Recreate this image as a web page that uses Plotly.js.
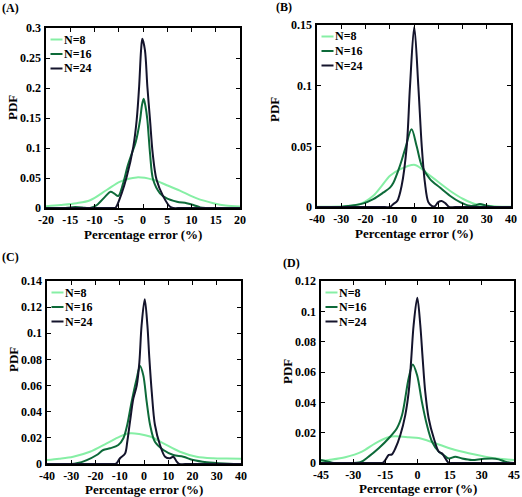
<!DOCTYPE html>
<html><head><meta charset="utf-8">
<script src="https://cdn.plot.ly/plotly-3.0.1.min.js"></script>
<style>html,body{margin:0;padding:0;background:#fff}#chart{width:522px;height:497px}</style>
</head><body><div id="chart"></div>
<script>
const seriesNames = ['N=8', 'N=16', 'N=24'];
const seriesColors = ['#86EFA5', '#0D6A39', '#14142C'];
const panelLabels = ['(A)', '(B)', '(C)', '(D)'];
const xTitle = 'Percentage error (%)';
const yTitle = 'PDF';

// ---- Panel A ----
const aX8  = [-20,-17,-13.7,-10.9,-7.5,-4.7,-1.3,2.1,4.9,7.6,11.1,14.5,17,20];
const aY8  = [0.003,0.005,0.008,0.013,0.030,0.044,0.051,0.047,0.038,0.029,0.016,0.008,0.004,0.0025];
const aX16 = [-20,-16,-14,-12,-10.9,-9.5,-7.8,-6.7,-5.9,-5.1,-4.1,-3.2,-2.3,-1.5,-0.6,-0.2,0.14,0.5,0.9,1.45,2.1,3.5,4.9,7,9,10.4,11.8,13,20];
const aY16 = [0,0,0.0015,0.0005,0,0.005,0.019,0.027,0.024,0.020,0.041,0.069,0.091,0.110,0.147,0.172,0.182,0.170,0.147,0.091,0.047,0.0245,0.016,0.0105,0.008,0.005,0.001,0,0];
const aX24 = [-20,-8,-6,-5.6,-4.4,-3.36,-2.0,-1.3,-0.8,-0.4,-0.14,0.4,0.9,1.45,2.0,2.8,4.2,5.6,6.2,8,20];
const aY24 = [0,0,0,0.001,0.0245,0.052,0.102,0.147,0.202,0.263,0.282,0.263,0.202,0.147,0.091,0.047,0.019,0.002,0,0,0];
const aXTicks = [-20,-15,-10,-5,0,5,10,15,20];
const aYTicks = [0,0.05,0.1,0.15,0.2,0.25,0.3];

// ---- Panel B ----
const bX8  = [-40,-29.2,-22.3,-16.8,-13.3,-9.9,-5.8,0.4,5.2,9.4,14.8,20.3,25.9,34,40];
const bY8  = [0.0003,0.0006,0.0025,0.0093,0.0175,0.0257,0.031,0.0347,0.028,0.0216,0.0134,0.0066,0.002,0.0005,0.0003];
const bX16 = [-40,-30,-26.4,-20.9,-16.8,-12.6,-9.9,-8.5,-5.8,-3.7,-1.0,1.1,3.2,6.6,10.7,14.8,19,23,25,27.2,30,33,40];
const bY16 = [0,0,0.001,0.003,0.0065,0.012,0.016,0.020,0.034,0.0475,0.064,0.050,0.034,0.023,0.016,0.0093,0.004,0.001,0.0012,0.0025,0.001,0,0];
const bX24 = [-40,-12,-10,-8.5,-6.9,-5.1,-3.0,-1.65,0.1,1.8,3.2,4.5,5.9,7.3,8.5,10,11.4,13,14.5,17,40];
const bY24 = [0,0,0,0.0025,0.005,0.0175,0.050,0.0994,0.1486,0.099,0.050,0.020,0.004,0.001,0.0005,0.004,0.005,0.003,0,0,0];
const bXTicks = [-40,-30,-20,-10,0,10,20,30,40];
const bYTicks = [0,0.05,0.1,0.15];

// ---- Panel C ----
const cX8  = [-40,-35,-29.2,-22.3,-15.4,-10,-5.8,-2,2.5,8,14.8,21.7,28.6,34,40];
const cY8  = [0.003,0.004,0.0056,0.0094,0.0158,0.021,0.0235,0.023,0.021,0.0158,0.0094,0.0056,0.0044,0.0042,0.004];
const cX16 = [-40,-30,-27.8,-23.6,-19.5,-16.8,-14,-10.6,-8.5,-6.9,-5.1,-3.0,-1.65,-0.3,1.1,2.5,4.5,8,12.1,16.2,20.3,25.9,33,37,40];
const cY16 = [0,0,0.0005,0.003,0.0069,0.0107,0.012,0.0145,0.0197,0.030,0.0477,0.0655,0.075,0.068,0.0477,0.030,0.017,0.0107,0.0069,0.0056,0.003,0.0013,0.0003,0,0];
const cX24 = [-40,-14,-12,-11.3,-9.9,-7.8,-6.9,-5.8,-4.4,-3.0,-1.9,-1.0,0.3,1.4,2.2,3.2,4.5,6.6,8.7,10.7,12.1,13.5,14.5,17,40];
const cY24 = [0,0,0,0.0005,0.0044,0.008,0.017,0.032,0.050,0.060,0.078,0.106,0.126,0.106,0.081,0.055,0.030,0.0145,0.0056,0.0044,0.0056,0.0018,0,0,0];
const cXTicks = [-40,-30,-20,-10,0,10,20,30,40];
const cYTicks = [0,0.02,0.04,0.06,0.08,0.1,0.12,0.14];

// ---- Panel D ----
const dX8  = [-45,-41.4,-33.7,-25.9,-19.7,-14,-11.9,-8,-4,0.6,8.3,16.1,23.9,31.6,39.4,45];
const dY8  = [0.0013,0.002,0.0038,0.0075,0.013,0.0168,0.0175,0.0175,0.017,0.0165,0.013,0.0092,0.0064,0.0042,0.0026,0.002];
const dX16 = [-45,-42,-39,-35,-26.7,-22.8,-18.1,-13.4,-9.6,-7.2,-4.1,-2.2,-0.2,2.1,4.4,6.8,9.9,12.2,14.6,17.6,20.8,25.4,30,34.8,37.9,41,45];
const dY16 = [0.002,0.001,0,0,0.0005,0.0042,0.0097,0.0163,0.0229,0.0316,0.056,0.065,0.058,0.040,0.025,0.014,0.0075,0.0053,0.003,0.0042,0.003,0.002,0.0026,0.003,0.0024,0.0009,0];
const dX24 = [-45,-19,-17,-16,-15,-13.4,-11.9,-10.3,-8.0,-5.7,-4.1,-2.9,-1.8,-0.1,1.3,2.4,3.6,5.2,7.6,9.9,11.4,13,14.6,16,18,45];
const dY24 = [0,0,0,0.0002,0.002,0.0053,0.0057,0.0097,0.0185,0.0316,0.047,0.069,0.091,0.109,0.091,0.069,0.047,0.0295,0.0163,0.0075,0.0064,0.003,0,0,0,0];
const dXTicks = [-45,-30,-15,0,15,30,45];
const dYTicks = [0,0.02,0.04,0.06,0.08,0.1,0.12];

const W = 522, H = 497;
const FONT = 'Liberation Serif';

const panelData = [
  {x: [aX8, aX16, aX24], y: [aY8, aY16, aY24], xt: aXTicks, yt: aYTicks},
  {x: [bX8, bX16, bX24], y: [bY8, bY16, bY24], xt: bXTicks, yt: bYTicks},
  {x: [cX8, cX16, cX24], y: [cY8, cY16, cY24], xt: cXTicks, yt: cYTicks},
  {x: [dX8, dX16, dX24], y: [dY8, dY16, dY24], xt: dXTicks, yt: dYTicks}
];
// plot boxes in pixels (layout only): l,r,t,b; panel label; y-title pos; x-title pos
const boxes = [
  {l: 46, r: 240, t: 28, b: 208, lx: 10, ly: 8, ytx: 13, yty: 108, xtx: 143, xty: 234},
  {l: 317, r: 511, t: 25, b: 207, lx: 283.5, ly: 7, ytx: 274, yty: 110, xtx: 414, xty: 233},
  {l: 47, r: 241, t: 281, b: 464, lx: 10, ly: 257, ytx: 13, yty: 360, xtx: 144, xty: 489},
  {l: 321, r: 514, t: 281, b: 463, lx: 291, ly: 263, ytx: 287, yty: 372, xtx: 417.5, xty: 488}
];
const legendOffsets = [11.5, 26, 40.5];

const traces = [];
const layout = {
  width: W, height: H,
  margin: {l: 0, r: 0, t: 0, b: 0},
  paper_bgcolor: '#fff', plot_bgcolor: '#fff',
  showlegend: false,
  font: {family: FONT, color: '#000'},
  shapes: [], annotations: []
};
const px = v => v / W, py = v => 1 - v / H;
const bold = s => '<b>' + s + '</b>';
const tfont = {family: FONT, size: 12, weight: 700, color: '#000'};
const titleFont = {family: FONT, size: 13, weight: 700, color: '#000'};

panelData.forEach((p, i) => {
  const n = i + 1, sfx = n === 1 ? '' : String(n);
  const bx = boxes[i];
  for (let s = 0; s < 3; s++) {
    traces.push({
      type: 'scatter', mode: 'lines', name: seriesNames[s],
      x: p.x[s], y: p.y[s],
      xaxis: 'x' + sfx, yaxis: 'y' + sfx,
      line: {color: seriesColors[s], width: 2, shape: 'spline', smoothing: 0.9},
      hoverinfo: 'skip'
    });
  }
  const common = {
    showline: true, linecolor: '#000', linewidth: 1.6, mirror: 'ticks',
    ticks: 'inside', ticklen: 4, tickwidth: 1, tickcolor: '#000',
    showgrid: false, zeroline: false, fixedrange: true,
    tickfont: tfont, tickmode: 'array'
  };
  const xt = p.xt, yt = p.yt;
  layout['xaxis' + sfx] = Object.assign({}, common, {
    domain: [px(bx.l), px(bx.r)], anchor: 'y' + sfx,
    range: [xt[0], xt[xt.length - 1]],
    tickvals: xt, ticktext: xt.map(v => bold(String(v)))
  });
  layout['yaxis' + sfx] = Object.assign({}, common, {
    domain: [py(bx.b), py(bx.t)], anchor: 'x' + sfx,
    range: [yt[0], yt[yt.length - 1]],
    tickvals: yt, ticktext: yt.map(v => bold(String(v))), ticklabelstandoff: 1
  });
  // axis titles
  layout.annotations.push({
    xref: 'paper', yref: 'paper', x: px(bx.xtx), y: py(bx.xty),
    xanchor: 'center', yanchor: 'middle', showarrow: false,
    text: bold(xTitle), font: titleFont
  });
  layout.annotations.push({
    xref: 'paper', yref: 'paper', x: px(bx.ytx), y: py(bx.yty),
    xanchor: 'center', yanchor: 'middle', showarrow: false, textangle: -90,
    text: bold(yTitle), font: titleFont
  });
  // panel label
  layout.annotations.push({
    xref: 'paper', yref: 'paper', x: px(bx.lx), y: py(bx.ly),
    xanchor: 'center', yanchor: 'middle', showarrow: false,
    text: bold(panelLabels[i]), font: tfont
  });
  // legend
  for (let s = 0; s < 3; s++) {
    const yy = bx.t + legendOffsets[s];
    layout.shapes.push({
      type: 'line', xref: 'paper', yref: 'paper',
      x0: px(bx.l + 4.5), x1: px(bx.l + 16.5), y0: py(yy), y1: py(yy),
      line: {color: seriesColors[s], width: 2}
    });
    layout.annotations.push({
      xref: 'paper', yref: 'paper', x: px(bx.l + 16), y: py(yy),
      xanchor: 'left', yanchor: 'middle', showarrow: false,
      text: bold(seriesNames[s]), font: tfont
    });
  }
});

Plotly.newPlot('chart', traces, layout, {staticPlot: true, displayModeBar: false});
</script>
</body></html>
